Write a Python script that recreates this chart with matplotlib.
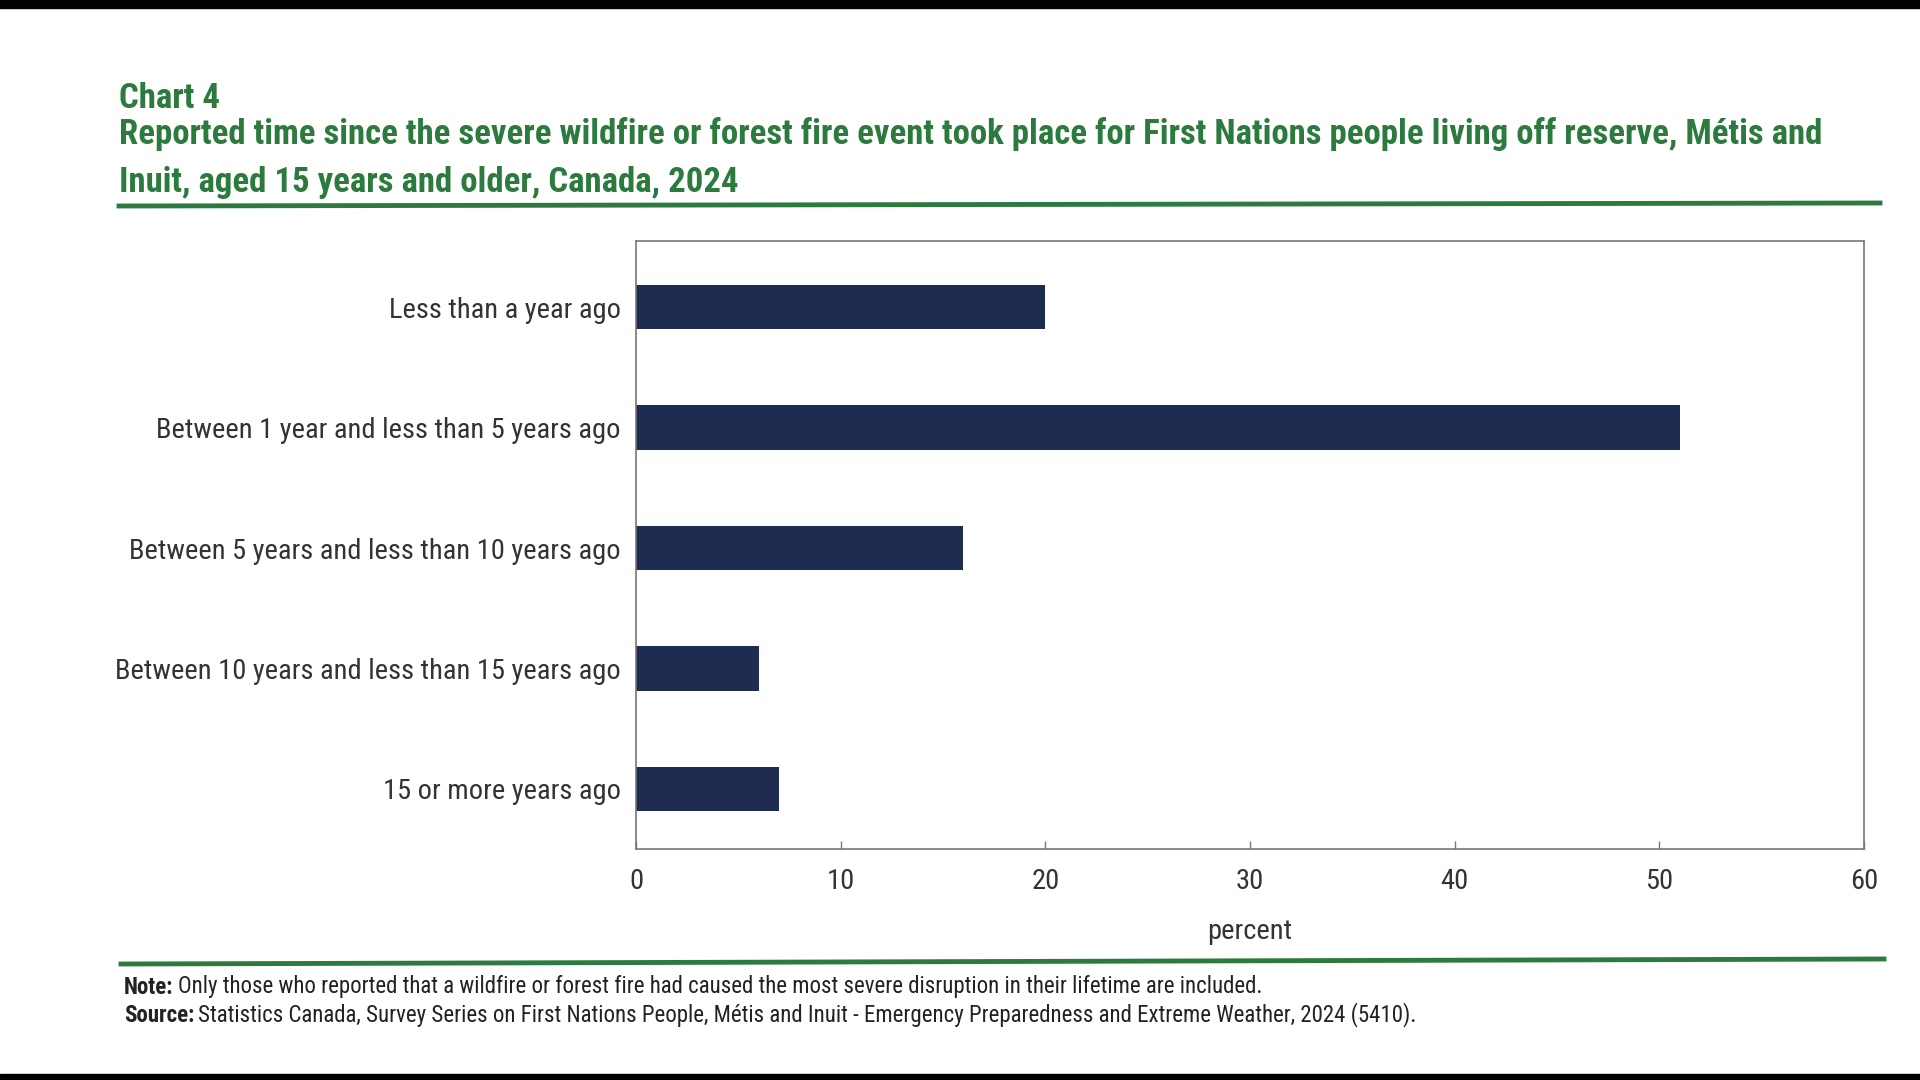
import numpy as np
import matplotlib.pyplot as plt
from matplotlib.lines import Line2D

# data
categories = ["Less than a year ago",
              "Between 1 year and less than 5 years ago",
              "Between 5 years and less than 10 years ago",
              "Between 10 years and less than 15 years ago",
              "15 or more years ago"]
percent = [20, 51, 16, 6, 7]
xticks = [0, 10, 20, 30, 40, 50, 60]

title1 = "Chart 4"
title2 = ("Reported time since the severe wildfire or forest fire event took place for First Nations people living off reserve, Métis and\n"
          "Inuit, aged 15 years and older, Canada, 2024")
note = "Only those who reported that a wildfire or forest fire had caused the most severe disruption in their lifetime are included."
source = "Statistics Canada, Survey Series on First Nations People, Métis and Inuit - Emergency Preparedness and Extreme Weather, 2024 (5410)."

regular = ['Roboto Condensed', 'Archivo Narrow', 'DejaVu Sans']
bold = ['Roboto Condensed', 'Fira Sans Condensed', 'DejaVu Sans']
plt.rcParams['font.family'] = regular
green = "#2d7a3e"
navy = "#1d2c50"
grey = "#333333"

W, H = 1920, 1080
fig = plt.figure(figsize=(19.2, 10.8), dpi=100)
fig.patch.set_facecolor("white")

# black bands from the photo of the screen
fig.add_artist(plt.Rectangle((0, 1 - 8 / H), 1, 8 / H, color="black", transform=fig.transFigure))
fig.add_artist(plt.Rectangle((0, 0), 1, 6 / H, color="black", transform=fig.transFigure))

ax = fig.add_axes([636 / W, 1 - 849 / H, (1864 - 636) / W, (849 - 241) / H])
y = np.arange(len(categories))
ax.barh(y, percent, height=0.37, color=navy)
ax.set_ylim(len(categories) - 0.5, -0.55)
ax.set_xlim(0, 60)
ax.set_xticks(xticks)
ax.set_xticklabels([str(t) for t in xticks])
ax.set_yticks(y)
ax.set_yticklabels(categories)
ax.tick_params(axis="y", length=0, pad=11, labelsize=20.5, labelcolor=grey)
ax.tick_params(axis="x", direction="in", length=6, width=1, color="#777777",
               pad=14, labelsize=20.5, labelcolor=grey)
for s in ax.spines.values():
    s.set_color("#777777")
    s.set_linewidth(1.2)
ax.set_xlabel("percent", fontsize=20.5, color=grey, labelpad=16)

# titles
fig.text(119 / W, 1 - 99 / H, title1, fontsize=25, fontweight="bold", family=bold,
         color=green, va="center")
fig.text(119 / W, 1 - 158 / H, title2, fontsize=25, fontweight="bold", family=bold,
         color=green, va="center", linespacing=1.55)

# green rules
fig.add_artist(Line2D([119 / W, 1880 / W], [1 - 206 / H, 1 - 203 / H], color=green, lw=3.5))
fig.add_artist(Line2D([121 / W, 1884 / W], [1 - 964 / H, 1 - 959 / H], color=green, lw=3.5))

# note and source
t1 = fig.text(124 / W, 1 - 987 / H, "Note:", fontsize=16.5, fontweight="bold", family=bold,
              color="#222222", va="center")
t2 = fig.text(124 / W, 1 - 1015 / H, "Source:", fontsize=16.5, fontweight="bold", family=bold,
              color="#222222", va="center")
ax.annotate(note, xy=(1, 0.5), xycoords=t1, xytext=(3, 0), textcoords="offset points",
            va="center", fontsize=16.5, color="#222222", annotation_clip=False)
ax.annotate(source, xy=(1, 0.5), xycoords=t2, xytext=(3, 0), textcoords="offset points",
            va="center", fontsize=16.5, color="#222222", annotation_clip=False)

fig.savefig("out.png", dpi=100)
